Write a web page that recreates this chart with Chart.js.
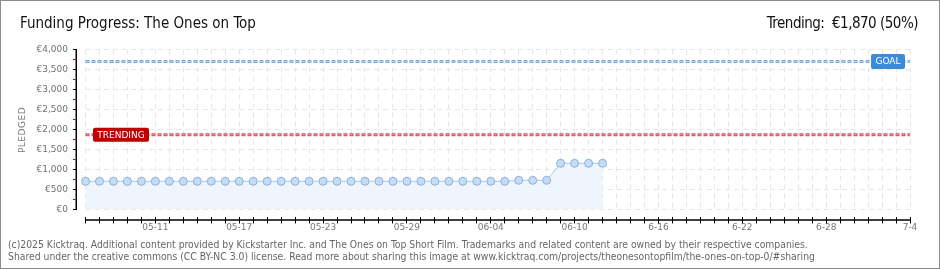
<!DOCTYPE html>
<html><head><meta charset="utf-8">
<script src="https://cdn.jsdelivr.net/npm/chart.js@4/dist/chart.umd.min.js"></script>
<style>
html,body{margin:0;padding:0;background:#fff;}
#wrap{position:relative;width:940px;height:270px;overflow:hidden;background:#fff;}
#frame{position:absolute;left:0;top:0;width:938px;height:267px;border:1px solid #8c8c8c;}
canvas{position:absolute;left:0;top:0;}
.t{position:absolute;white-space:nowrap;line-height:1;}
#title{left:20px;top:16px;font-size:15px;font-family:"DejaVu Sans Condensed","DejaVu Sans";color:#111;}
#trend{right:22px;top:16px;font-size:15px;font-family:"DejaVu Sans Condensed","DejaVu Sans";color:#111;letter-spacing:-0.5px;}
#ytitle{left:21.5px;top:130px;font-size:9px;font-family:"DejaVu Sans";color:#777;letter-spacing:0.5px;transform:translate(-50%,-50%) rotate(-90deg);}
.foot{left:8px;font-size:10.3px;font-family:"DejaVu Sans Condensed","DejaVu Sans";color:#666;}
</style></head>
<body>
<div id="wrap">
<canvas id="c" width="940" height="270"></canvas>
<div id="frame"></div>
<div class="t" id="title">Funding Progress: The Ones on Top</div>
<div class="t" id="trend">Trending: &nbsp;€1,870 (50%)</div>
<div class="t" id="ytitle">PLEDGED</div>
<div class="t foot" style="top:238.5px">(c)2025 Kicktraq. Additional content provided by Kickstarter Inc. and The Ones on Top Short Film. Trademarks and related content are owned by their respective companies.</div>
<div class="t foot" style="top:251px">Shared under the creative commons (CC BY-NC 3.0) license. Read more about sharing this image at www.kicktraq.com/projects/theonesontopfilm/the-ones-on-top-0/#sharing</div>
</div>
<script>
const categories = ['05-06','05-07','05-08','05-09','05-10','05-11','05-12','05-13','05-14','05-15','05-16','05-17','05-18','05-19','05-20','05-21','05-22','05-23','05-24','05-25','05-26','05-27','05-28','05-29','05-30','05-31',
'06-01','06-02','06-03','06-04','06-05','06-06','06-07','06-08','06-09','06-10','06-11','06-12','06-13','06-14','06-15','06-16','06-17','06-18','06-19','06-20','06-21','06-22','06-23','06-24','06-25','06-26','06-27','06-28','06-29','06-30',
'07-01','07-02','07-03','07-04'];
const pledged = [705,705,705,705,705,705,705,705,705,705,705,705,705,705,705,705,705,705,705,705,705,705,705,705,705,705,705,705,705,705,705,
730,730,730,1155,1155,1155,1155];
const tickAt   = ['05-11','05-17','05-23','05-29','06-04','06-10','06-16','06-22','06-28','07-04'];
const tickText = ['05-11','05-17','05-23','05-29','06-04','06-10','6-16','6-22','6-28','7-4'];
const goal = 3700;
const trending = 1870;
const yMin = 0, yMax = 4000, yStep = 500;

function refLine(ctx, x0, x1, y, outer, inner){
  ctx.save();
  ctx.lineWidth = 3; ctx.strokeStyle = outer; ctx.setLineDash([4,2]);
  ctx.beginPath(); ctx.moveTo(x0, y); ctx.lineTo(x1, y); ctx.stroke();
  ctx.lineWidth = 1; ctx.strokeStyle = inner; ctx.setLineDash([2,4]); ctx.lineDashOffset = -1;
  ctx.beginPath(); ctx.moveTo(x0, y); ctx.lineTo(x1, y); ctx.stroke();
  ctx.restore();
}
function tag(ctx, x, yc, w, h, fill, text){
  ctx.save();
  ctx.fillStyle = fill;
  ctx.beginPath(); ctx.roundRect(x, yc - h/2, w, h, 2); ctx.fill();
  ctx.fillStyle = '#fff'; ctx.font = '9px "DejaVu Sans"';
  ctx.textAlign = 'center'; ctx.textBaseline = 'middle';
  ctx.fillText(text, x + w/2, yc + 0.5);
  ctx.restore();
}
const overlay = {
  id: 'overlay',
  beforeDatasetsDraw(chart){
    const {ctx, chartArea: a, scales: {y}} = chart;
    refLine(ctx, a.left, a.right, y.getPixelForValue(goal), '#80aade', '#c3d9f2');
    refLine(ctx, a.left, a.right, y.getPixelForValue(trending), '#d8505c', '#f2a4aa');
  },
  afterDatasetsDraw(chart){
    const {ctx, chartArea: a, scales: {x, y}} = chart;
    tag(ctx, a.right - 39, y.getPixelForValue(goal), 34, 15, '#3d8ad9', 'GOAL');
    tag(ctx, a.left + 7.5, y.getPixelForValue(trending), 56, 14, '#c00000', 'TRENDING');
    ctx.save();
    const ax = 76.25;
    ctx.strokeStyle = '#000'; ctx.lineWidth = 1.5;
    ctx.beginPath(); ctx.moveTo(ax, y.getPixelForValue(yMax) - 0.5); ctx.lineTo(ax, y.getPixelForValue(yMin) + 0.5); ctx.stroke();
    ctx.lineWidth = 1;
    for (let v = yMin; v <= yMax; v += yStep/2){
      const py = Math.round(y.getPixelForValue(v) - 0.5) + 0.5;
      ctx.strokeStyle = (v % yStep === 0) ? '#000' : '#e00000';
      ctx.beginPath(); ctx.moveTo(73, py); ctx.lineTo(76, py); ctx.stroke();
    }
    const ay = 220;
    ctx.strokeStyle = '#000'; ctx.lineWidth = 1.5;
    ctx.beginPath(); ctx.moveTo(x.getPixelForValue(0) - 0.5, ay); ctx.lineTo(x.getPixelForValue(categories.length - 1) + 0.5, ay); ctx.stroke();
    ctx.lineWidth = 1;
    for (let i = 0; i < categories.length; i++){
      const px = Math.round(x.getPixelForValue(i) - 0.5) + 0.5;
      ctx.beginPath(); ctx.moveTo(px, ay - 3); ctx.lineTo(px, ay + 3.5); ctx.stroke();
    }
    ctx.restore();
  }
};

Chart.defaults.font.family = '"DejaVu Sans"';
new Chart(document.getElementById('c'), {
  type: 'line',
  data: {
    labels: categories,
    datasets: [{
      data: pledged,
      fill: 'origin',
      backgroundColor: '#eef5fd',
      borderColor: '#a9c9ec',
      borderWidth: 1,
      pointRadius: 4,
      pointBackgroundColor: '#c4ddf6',
      pointBorderColor: '#8fb0d6',
      pointBorderWidth: 1,
      tension: 0,
      clip: false
    }]
  },
  options: {
    responsive: false,
    animation: false,
    devicePixelRatio: 1,
    layout: {padding: {left: 0, right: 30, top: 49.5, bottom: 0}},
    plugins: {legend: {display: false}, tooltip: {enabled: false}},
    scales: {
      x: {
        offset: false,
        grid: {color: '#e6e6e6', drawTicks: false},
        border: {display: false, dash: [5,4]},
        afterFit(s){ s.height = 60.5; },
        ticks: {
          autoSkip: false, maxRotation: 0, padding: 13,
          color: '#777', font: {size: 9},
          callback(v, i){ const k = tickAt.indexOf(categories[i]); return k >= 0 ? tickText[k] : ''; }
        }
      },
      y: {
        min: yMin, max: yMax,
        grid: {color: '#e6e6e6', drawTicks: false},
        border: {display: false, dash: [5,4]},
        afterFit(s){ s.width = 85.5; },
        ticks: {
          stepSize: yStep, padding: 17.5, color: '#6f6f6f', font: {size: 9},
          callback(v){ return '€' + v.toLocaleString('en-US'); }
        }
      }
    }
  },
  plugins: [overlay]
});
</script>
</body></html>
